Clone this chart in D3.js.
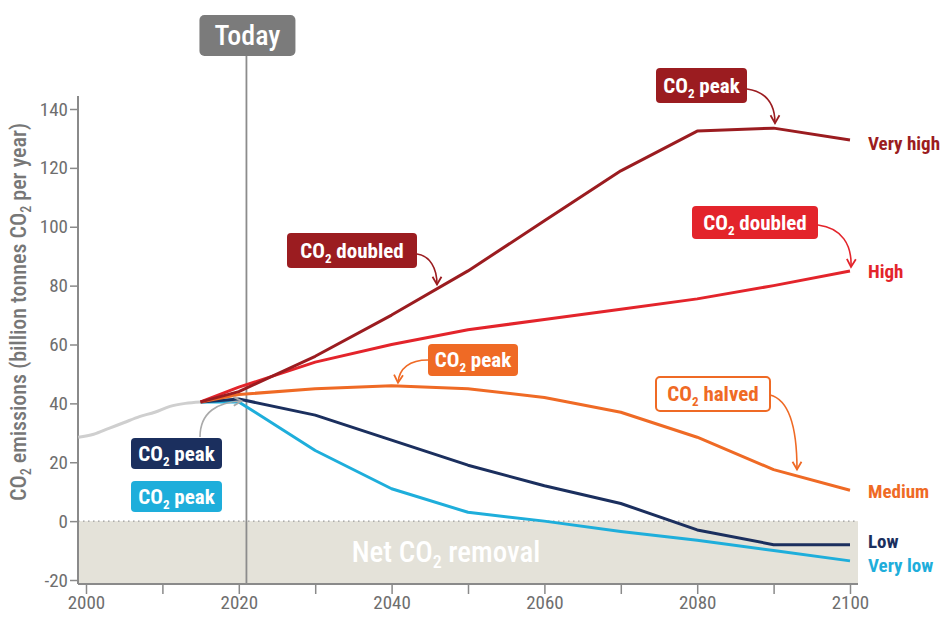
<!DOCTYPE html>
<html>
<head>
<meta charset="utf-8">
<script src="https://cdn.jsdelivr.net/npm/d3@7"></script>
<style>
  body { margin: 0; background: #fff; }
  svg text { font-family: "Liberation Sans Narrow", "Roboto Condensed", "Arial Narrow", Roboto, sans-serif; }
</style>
</head>
<body>
<div id="chart"></div>
<script>
// values
var years = [2015, 2020, 2030, 2040, 2050, 2060, 2070, 2080, 2090, 2100];
var veryHigh = [40.5, 44, 56, 70, 85, 102, 119, 132.5, 133.5, 129.5];
var high     = [40.5, 45.5, 54, 60, 65, 68.5, 72, 75.5, 80, 85];
var medium   = [40.5, 43, 45, 46, 45, 42, 37, 28.5, 17.5, 10.5];
var low      = [40.5, 41.5, 36, 27.5, 19, 12, 6, -3, -8, -8];
var veryLow  = [40.5, 40.5, 24, 11, 3, 0, -3.5, -6.5, -10, -13.5];

var histYears  = [1999, 2001, 2003, 2005, 2007, 2009, 2011, 2013, 2015];
var histValues = [28.5, 29.5, 31.5, 33.5, 35.5, 37, 39, 40, 40.5];

var xTicks = [2000, 2020, 2040, 2060, 2080, 2100];
var yTicks = [-20, 0, 20, 40, 60, 80, 100, 120, 140];

var seriesNames  = ["Very high", "High", "Medium", "Low", "Very low"];
var seriesColors = ["#9b1c20", "#e3242b", "#ef6a25", "#1b2f5e", "#1eaedb"];
var seriesValues = [veryHigh, high, medium, low, veryLow];

var todayYear = 2021;

var width = 943, height = 617;
var axisLeftX = 78, axisBottomY = 584;

var x = d3.scaleLinear().domain([2000, 2100]).range([86, 850]);
var y = d3.scaleLinear().domain([-20, 140]).range([580, 109]);

var svg = d3.select("#chart").append("svg")
    .attr("width", width)
    .attr("height", height);

var defs = svg.append("defs");
function marker(id, color) {
  defs.append("marker")
      .attr("id", id)
      .attr("viewBox", "0 0 10 10")
      .attr("refX", 8).attr("refY", 5)
      .attr("markerWidth", 7).attr("markerHeight", 7)
      .attr("orient", "auto-start-reverse")
      .append("path")
      .attr("d", "M1,1 L8,5 L1,9")
      .attr("fill", "none")
      .attr("stroke", color)
      .attr("stroke-width", 1.6);
}

// net removal band
svg.append("rect")
    .attr("x", axisLeftX)
    .attr("y", y(0))
    .attr("width", 858 - axisLeftX)
    .attr("height", axisBottomY - y(0))
    .attr("fill", "#e4e2d9");

svg.append("line")
    .attr("x1", axisLeftX).attr("x2", 858)
    .attr("y1", y(0)).attr("y2", y(0))
    .attr("stroke", "#999")
    .attr("stroke-width", 1.2)
    .attr("stroke-dasharray", "1.5,3.5");

var removal = svg.append("text")
    .attr("x", 446).attr("y", 562)
    .attr("text-anchor", "middle")
    .attr("fill", "#fff")
    .attr("font-size", 29)
    .attr("font-weight", 500);
removal.append("tspan").text("Net CO");
removal.append("tspan").text("2").attr("font-size", 18).attr("dy", 6);
removal.append("tspan").text(" removal").attr("dy", -6);

// axes
var yAxis = d3.axisLeft(y).tickValues(yTicks).tickSize(8).tickSizeOuter(0)
    .tickFormat(function(d) { return String(d); });
var gy = svg.append("g")
    .attr("transform", "translate(" + axisLeftX + ",0)")
    .call(yAxis);
gy.select(".domain").remove();
gy.append("line")
    .attr("x1", 0).attr("x2", 0)
    .attr("y1", 96).attr("y2", axisBottomY)
    .attr("stroke", "#8a8a8a").attr("stroke-width", 2);
gy.selectAll(".tick line").attr("stroke", "#8a8a8a").attr("stroke-width", 1.5);
gy.selectAll(".tick text")
    .attr("fill", "#6e6e6e")
    .attr("font-size", 19)
    .attr("x", -10);

var xAxis = d3.axisBottom(x).tickValues(d3.range(2000, 2101, 10)).tickSize(10)
    .tickFormat(function(d) { return xTicks.indexOf(d) >= 0 ? d : ""; });
var gx = svg.append("g")
    .attr("transform", "translate(0," + axisBottomY + ")")
    .call(xAxis);
gx.select(".domain").remove();
gx.append("line")
    .attr("x1", axisLeftX).attr("x2", 858)
    .attr("stroke", "#8a8a8a").attr("stroke-width", 2);
gx.selectAll(".tick line").attr("stroke", "#8a8a8a").attr("stroke-width", 1.5);
gx.selectAll(".tick text")
    .attr("fill", "#6e6e6e")
    .attr("font-size", 19)
    .attr("y", 12);

// y axis title
var ttl = svg.append("text")
    .attr("transform", "translate(26,312) rotate(-90)")
    .attr("text-anchor", "middle")
    .attr("fill", "#777")
    .attr("font-size", 22)
    .attr("font-weight", 500);
ttl.append("tspan").text("CO");
ttl.append("tspan").text("2").attr("font-size", 14).attr("dy", 5);
ttl.append("tspan").text(" emissions (billion tonnes CO").attr("dy", -5);
ttl.append("tspan").text("2").attr("font-size", 14).attr("dy", 5);
ttl.append("tspan").text(" per year)").attr("dy", -5);

// today line
svg.append("line")
    .attr("x1", x(todayYear)).attr("x2", x(todayYear))
    .attr("y1", 55).attr("y2", axisBottomY)
    .attr("stroke", "#8c8c8c").attr("stroke-width", 1.8);
svg.append("rect")
    .attr("x", x(todayYear) - 47).attr("y", 15)
    .attr("width", 96).attr("height", 41)
    .attr("rx", 5)
    .attr("fill", "#7b7b7b");
svg.append("text")
    .attr("x", x(todayYear) + 1).attr("y", 45)
    .attr("text-anchor", "middle")
    .attr("fill", "#fff")
    .attr("font-size", 28)
    .attr("font-weight", 500)
    .text("Today");

// lines
var line = d3.line()
    .x(function(d) { return x(d[0]); })
    .y(function(d) { return y(d[1]); });

svg.append("path")
    .datum(d3.zip(histYears, histValues))
    .attr("d", d3.line()
        .x(function(d) { return x(d[0]); })
        .y(function(d) { return y(d[1]); })
        .curve(d3.curveMonotoneX))
    .attr("fill", "none")
    .attr("stroke", "#cfcfcf")
    .attr("stroke-width", 3);

// draw bottom-up so reds sit on top
for (var i = seriesValues.length - 1; i >= 0; i--) {
  svg.append("path")
      .datum(d3.zip(years, seriesValues[i]))
      .attr("d", line)
      .attr("fill", "none")
      .attr("stroke", seriesColors[i])
      .attr("stroke-width", 3)
      .attr("stroke-linejoin", "round");
}

// end labels
var labelDy = [10, 7, 8, 3, 11];
seriesNames.forEach(function(name, i) {
  var last = seriesValues[i][seriesValues[i].length - 1];
  svg.append("text")
      .attr("x", 868)
      .attr("y", y(last) + labelDy[i])
      .attr("fill", seriesColors[i])
      .attr("font-size", 19)
      .attr("font-weight", "bold")
      .text(name);
});

// callouts
function callout(cx, cy, w, h, word, color, outline) {
  svg.append("rect")
      .attr("x", cx).attr("y", cy)
      .attr("width", w).attr("height", h)
      .attr("rx", 4)
      .attr("fill", outline ? "#fff" : color)
      .attr("stroke", outline ? color : "none")
      .attr("stroke-width", 2);
  var t = svg.append("text")
      .attr("x", cx + w / 2).attr("y", cy + h / 2 + 7)
      .attr("text-anchor", "middle")
      .attr("fill", outline ? color : "#fff")
      .attr("font-size", 21)
      .attr("font-weight", "bold");
  t.append("tspan").text("CO");
  t.append("tspan").text("2").attr("font-size", 13).attr("dy", 5);
  t.append("tspan").text(" " + word).attr("dy", -5);
}

function arrow(d, color, id) {
  svg.append("path")
      .attr("d", d)
      .attr("fill", "none")
      .attr("stroke", color)
      .attr("stroke-width", 1.6)
      .attr("marker-end", "url(#" + id + ")");
}

marker("m0", seriesColors[0]);
marker("m1", seriesColors[1]);
marker("m2", seriesColors[2]);
marker("mg", "#aaaaaa");

// very high peak
callout(656, 68, 91, 35, "peak", seriesColors[0]);
arrow("M747,89 C768,92 775,105 775," + (y(133.5) - 5), seriesColors[0], "m0");
// very high doubled
callout(287, 233, 130, 35, "doubled", seriesColors[0]);
arrow("M417,254 C430,256 437,268 437," + (y(79) - 4), seriesColors[0], "m0");
// high doubled
callout(692, 206, 126, 33, "doubled", seriesColors[1]);
arrow("M818,225 C842,228 852,245 851," + (y(85) - 4), seriesColors[1], "m1");
// medium peak
callout(428, 344, 90, 32, "peak", seriesColors[2]);
arrow("M428,360 C410,360 399,368 398," + (y(46) - 3), seriesColors[2], "m2");
// medium halved
callout(656, 377, 114, 34, "halved", seriesColors[2], true);
arrow("M770,395 C790,400 797,430 797," + (y(16.5) - 3), seriesColors[2], "m2");
// low / very low peaks
callout(131, 438, 91, 31, "peak", seriesColors[3]);
callout(131, 481, 91, 31, "peak", seriesColors[4]);
arrow("M200,437 C200,412 218,402 " + (x(todayYear) - 5) + "," + (y(41.5) + 2), "#aaaaaa", "mg");
</script>
</body>
</html>
